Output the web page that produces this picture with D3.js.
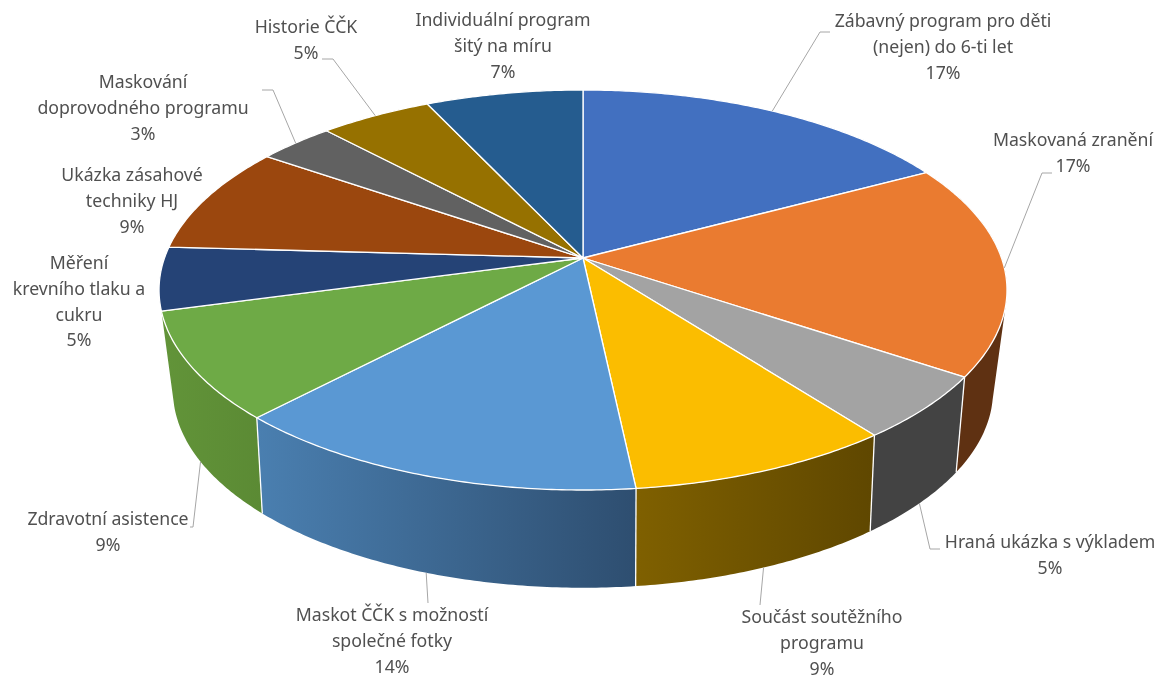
<!DOCTYPE html>
<html>
<head>
<meta charset="utf-8">
<script src="https://cdn.jsdelivr.net/npm/d3@7"></script>
<style>
  html, body { margin: 0; padding: 0; background: #fff; }
  svg { display: block; filter: blur(0.4px); }
  text { font-family: "Noto Sans", sans-serif; font-size: 17.7px; fill: #505050; }
</style>
</head>
<body>
<div id="chart"></div>
<script>
// slice names, one array entry per text line
const categories = [
  ["Zábavný program pro děti", "(nejen) do 6-ti let"],
  ["Maskovaná zranění"],
  ["Hraná ukázka s výkladem"],
  ["Součást soutěžního", "programu"],
  ["Maskot ČČK s možností", "společné fotky"],
  ["Zdravotní asistence"],
  ["Měření", "krevního tlaku a", "cukru"],
  ["Ukázka zásahové", "techniky HJ"],
  ["Maskování", "doprovodného programu"],
  ["Historie ČČK"],
  ["Individuální program", "šitý na míru"]
];

// shares, labels show them rounded
const shares = [17.2, 17.2, 5.2, 8.7, 13.8, 8.7, 5.1, 8.7, 3.4, 5.0, 7.0];

const topColors = ["#4270c0", "#ea7b30", "#a3a3a3", "#fbbd00", "#5a98d3", "#6eaa46",
  "#254376", "#9b470e", "#616161", "#967100", "#255c8f"];
const wallLeft = ["#29447a", "#5f3112", "#434343", "#7f6000", "#4a7fb0", "#629439",
  "#17294a", "#5f2b08", "#3b3b3b", "#5c4500", "#163857"];
const wallRight = ["#29447a", "#5f3112", "#434343", "#5f4700", "#2e4e70", "#5b8a34",
  "#17294a", "#5f2b08", "#3b3b3b", "#5c4500", "#163857"];

// label centre x, y of first line, leader bend and leader end (null = no leader)
const labelLayout = [
  { x: 943, y: 27, leader: [[820, 32], [830, 32]] },
  { x: 1073, y: 146, leader: [[1042, 173], [1052, 173]] },
  { x: 1050, y: 548, leader: [[930, 549], [940, 549]] },
  { x: 822, y: 623, leader: [[760, 605]] },
  { x: 392, y: 621, leader: [[428, 603]] },
  { x: 108, y: 525, leader: [[193, 527], [190, 527]] },
  { x: 79, y: 269, leader: null },
  { x: 132, y: 181, leader: null },
  { x: 143, y: 88, leader: [[273, 90], [262, 90]] },
  { x: 306, y: 33, leader: [[333, 59], [322, 59]] },
  { x: 503, y: 26, leader: null }
];

const width = 1167, height = 679, lineStep = 25.8;

// perspective of the disc, top rim and bottom rim
const topRim = { cx: 583, cy: 258, a: 418.5, b: 194.9, k: 0.16 };
const lowRim = { cx: 583, cy: 354, a: 403, b: 190.5, k: 0.185 };

function project(rim, t) {
  const w = 1 + rim.k * Math.cos(t);
  return [rim.cx + rim.a * Math.sin(t) / w, rim.cy - rim.b * Math.cos(t) / w];
}

function arcSteps(d) {
  const n = Math.max(2, Math.ceil((d.endAngle - d.startAngle) / 0.01));
  return d3.range(n + 1).map(i => d.startAngle + (d.endAngle - d.startAngle) * i / n);
}

const slices = d3.pie().sort(null).value(d => d)(shares);
const line = d3.line();

const svg = d3.select("#chart").append("svg")
  .attr("width", width)
  .attr("height", height);

const defs = svg.append("defs");

// only the slices with a wall that can be seen, far ones first
const wallOrder = slices
  .filter(d => Math.cos(d.startAngle) < -0.3 || Math.cos(d.endAngle) < -0.3)
  .sort((p, q) => Math.cos((q.startAngle + q.endAngle) / 2) - Math.cos((p.startAngle + p.endAngle) / 2));

wallOrder.forEach(d => {
  const steps = arcSteps(d);
  const xs = steps.map(t => project(topRim, t)[0]).concat(steps.map(t => project(lowRim, t)[0]));
  const gradId = "wall-" + d.index;
  const grad = defs.append("linearGradient")
    .attr("id", gradId)
    .attr("gradientUnits", "userSpaceOnUse")
    .attr("x1", d3.min(xs)).attr("x2", d3.max(xs))
    .attr("y1", 0).attr("y2", 0);
  grad.append("stop").attr("offset", 0).attr("stop-color", wallLeft[d.index]);
  grad.append("stop").attr("offset", 1).attr("stop-color", wallRight[d.index]);

  // one path of small quads turned the same way, so no seams and the tangent part gets filled
  const quads = d3.pairs(steps).map(s => {
    const q = [project(topRim, s[0]), project(topRim, s[1]), project(lowRim, s[1]), project(lowRim, s[0])];
    if (d3.polygonArea(q) < 0) q.reverse();
    return line(q) + "Z";
  });

  svg.append("path")
    .attr("class", "wall")
    .attr("d", quads.join(""))
    .attr("fill", "url(#" + gradId + ")");
});

// white seams between the visible walls
svg.append("g")
  .selectAll("path")
  .data(slices.filter(d => Math.cos(d.startAngle) < -0.3))
  .enter()
  .append("path")
  .attr("d", d => line([project(topRim, d.startAngle), project(lowRim, d.startAngle)]))
  .attr("stroke", "#fff")
  .attr("stroke-width", 1.3)
  .attr("fill", "none");

// top faces
svg.append("g")
  .selectAll("path")
  .data(slices)
  .enter()
  .append("path")
  .attr("d", d => line([[topRim.cx, topRim.cy]].concat(arcSteps(d).map(t => project(topRim, t)))) + "Z")
  .attr("fill", d => topColors[d.index])
  .attr("stroke", "#fff")
  .attr("stroke-width", 1.3)
  .attr("stroke-linejoin", "round");

// leader lines, they start at the middle of the slice on the visible rim
svg.append("g")
  .selectAll("path")
  .data(slices.filter(d => labelLayout[d.index].leader))
  .enter()
  .append("path")
  .attr("d", d => {
    const mid = (d.startAngle + d.endAngle) / 2;
    const rim = Math.cos(mid) < -0.3 ? lowRim : topRim;
    return line([project(rim, mid)].concat(labelLayout[d.index].leader));
  })
  .attr("fill", "none")
  .attr("stroke", "#a6a6a6")
  .attr("stroke-width", 1);

// labels
const labels = svg.append("g")
  .selectAll("text")
  .data(slices)
  .enter()
  .append("text")
  .attr("text-anchor", "middle");

labels.selectAll("tspan")
  .data(d => categories[d.index].concat(Math.round(d.value) + "%").map(t => ({ t: t, i: d.index })))
  .enter()
  .append("tspan")
  .attr("x", d => labelLayout[d.i].x)
  .attr("y", (d, j) => labelLayout[d.i].y + j * lineStep)
  .text(d => d.t);
</script>
</body>
</html>
